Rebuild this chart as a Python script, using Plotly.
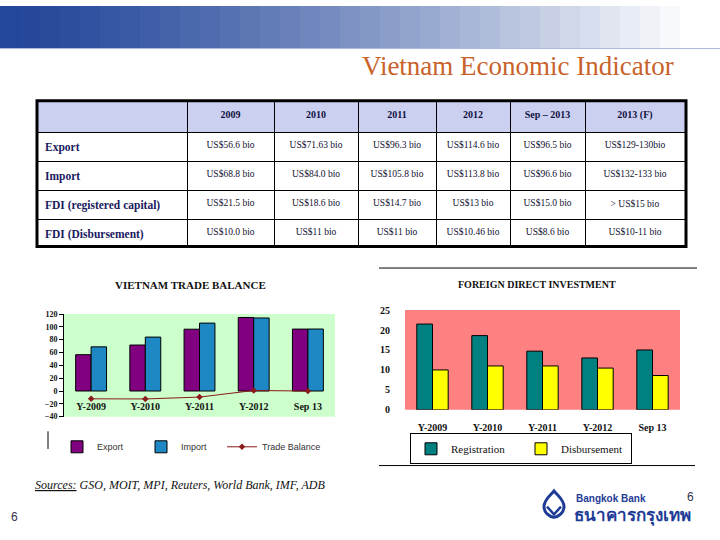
import plotly.graph_objects as go

# ---------------- data ----------------
periods = ["Y-2009", "Y-2010", "Y-2011", "Y-2012", "Sep 13"]
export_bn = [56.6, 71.63, 96.3, 114.6, 96.5]
import_bn = [68.8, 84.0, 105.8, 113.8, 96.6]
trade_balance = [e - i for e, i in zip(export_bn, import_bn)]
fdi_registration = [21.5, 18.6, 14.7, 13.0, 15.0]
fdi_disbursement = [10.0, 11.0, 11.0, 10.46, 8.6]

table_header = ["", "2009", "2010", "2011", "2012", "Sep – 2013", "2013 (F)"]
row_labels = ["Export", "Import", "FDI (registered capital)", "FDI (Disbursement)"]
col_2009 = ["US$56.6 bio", "US$68.8 bio", "US$21.5 bio", "US$10.0 bio"]
col_2010 = ["US$71.63 bio", "US$84.0 bio", "US$18.6 bio", "US$11 bio"]
col_2011 = ["US$96.3 bio", "US$105.8 bio", "US$14.7 bio", "US$11 bio"]
col_2012 = ["US$114.6 bio", "US$113.8 bio", "US$13 bio", "US$10.46 bio"]
col_sep13 = ["US$96.5 bio", "US$96.6 bio", "US$15.0 bio", "US$8.6 bio"]
col_2013f = ["US$129-130bio", "US$132-133 bio", "> US$15 bio", "US$10-11 bio"]

# ---------------- helpers ----------------
W, H = 720, 540
def fx(x): return x / W
def fy(y): return 1 - y / H

SERIF = "Liberation Serif"
SANS = "Liberation Sans"

fig = go.Figure()

# ---------------- table ----------------
fig.add_trace(go.Table(
    domain=dict(x=[fx(37), fx(686)], y=[fy(246), fy(97)]),
    columnwidth=[150, 87, 84, 78, 74, 75, 100],
    header=dict(
        values=["<b>%s</b>" % h for h in table_header],
        fill_color="#ccd0f0",
        line=dict(color="black", width=1),
        align="center",
        font=dict(family=SERIF, size=10, color="#101040"),
        height=32,
    ),
    cells=dict(
        values=[["<b>%s</b>" % r for r in row_labels], col_2009, col_2010, col_2011,
                col_2012, col_sep13, col_2013f],
        fill_color="white",
        line=dict(color="black", width=1),
        align=["left"] + ["center"] * 6,
        font=dict(family=SERIF, size=[11.5] + [9.5] * 6,
                  color=["#1a1a60"] + ["#101030"] * 6),
        height=29,
    ),
))

# ---------------- trade balance chart ----------------
fig.add_trace(go.Bar(x=periods, y=export_bn, name="Export", marker=dict(color="#800080", line=dict(color="black", width=1)),
                     xaxis="x", yaxis="y", legend="legend"))
fig.add_trace(go.Bar(x=periods, y=import_bn, name="Import", marker=dict(color="#1e88c4", line=dict(color="black", width=1)),
                     xaxis="x", yaxis="y", legend="legend"))
fig.add_trace(go.Scatter(x=periods, y=trade_balance, name="Trade Balance", mode="lines+markers",
                         line=dict(color="#8b1a1a", width=1), marker=dict(symbol="diamond", size=5, color="#8b1a1a"),
                         xaxis="x", yaxis="y", legend="legend3"))

# ---------------- FDI chart ----------------
fig.add_trace(go.Bar(x=periods, y=fdi_registration, name="Registration", marker=dict(color="#008080", line=dict(color="black", width=1)),
                     xaxis="x2", yaxis="y2", legend="legend2"))
fig.add_trace(go.Bar(x=periods, y=fdi_disbursement, name="Disbursement", marker=dict(color="#ffff00", line=dict(color="black", width=1)),
                     xaxis="x2", yaxis="y2", legend="legend2"))

ly0, ly1 = fy(420), fy(315)
zero_pos = ly0 + (ly1 - ly0) * (40 / 160)

shapes = []
# header gradient band
c0 = (35, 71, 154)
c1 = (255, 255, 255)
steps = 36
for i in range(steps):
    t = min(1.0, (i / (steps - 1)) ** 1.3 * 1.05)
    col = tuple(int(c0[k] + (c1[k] - c0[k]) * t) for k in range(3))
    shapes.append(dict(type="rect", xref="paper", yref="paper",
                       x0=fx(i * 20), x1=fx(i * 20 + 21), y0=fy(43), y1=1,
                       line=dict(width=0), fillcolor="rgb(%d,%d,%d)" % col, layer="below"))
shapes.append(dict(type="line", xref="paper", yref="paper", x0=0, x1=1, y0=fy(43.5), y1=fy(43.5),
                   line=dict(color="#a8b8d8", width=1)))
# plot backgrounds
shapes.append(dict(type="rect", xref="x domain", yref="y domain", x0=0, x1=1, y0=0, y1=1,
                   fillcolor="#ccffcc", line=dict(width=0), layer="below"))
shapes.append(dict(type="rect", xref="x2 domain", yref="y2 domain", x0=0, x1=1, y0=0, y1=1,
                   fillcolor="#ff8080", line=dict(width=0), layer="below"))
# table outer frame
shapes.append(dict(type="rect", xref="paper", yref="paper", x0=fx(37), x1=fx(686), y0=fy(246), y1=fy(97),
                   line=dict(color="black", width=3)))
# FDI panel frame lines
shapes.append(dict(type="line", xref="paper", yref="paper", x0=fx(379), x1=fx(697), y0=fy(268), y1=fy(268),
                   line=dict(color="black", width=1)))
shapes.append(dict(type="line", xref="paper", yref="paper", x0=fx(379), x1=fx(695), y0=fy(470), y1=fy(470),
                   line=dict(color="black", width=1)))
# left legend edge mark
shapes.append(dict(type="line", xref="paper", yref="paper", x0=fx(48), x1=fx(48), y0=fy(453), y1=fy(435),
                   line=dict(color="black", width=1)))
# Bangkok Bank logo mark
logo_col = "#1e3c96"
shapes.append(dict(type="path", xref="paper", yref="paper",
                   path="M %f %f C %f %f %f %f %f %f C %f %f %f %f %f %f C %f %f %f %f %f %f C %f %f %f %f %f %f Z" % (
                       fx(554), fy(496),
                       fx(558), fy(501), fx(564), fy(505), fx(564), fy(512),
                       fx(564), fy(518), fx(559), fy(522), fx(554), fy(523),
                       fx(549), fy(522), fx(544), fy(518), fx(544), fy(512),
                       fx(544), fy(505), fx(550), fy(501), fx(554), fy(496)),
                   line=dict(color=logo_col, width=3)))
shapes.append(dict(type="path", xref="paper", yref="paper",
                   path="M %f %f L %f %f L %f %f" % (fx(547), fy(512), fx(554), fy(520), fx(561), fy(512)),
                   line=dict(color=logo_col, width=2.5)))

annotations = [
    dict(text="Vietnam Economic Indicator", x=fx(676), y=fy(61), xref="paper", yref="paper",
         xanchor="right", yanchor="middle", showarrow=False,
         font=dict(family=SERIF, size=27, color="#c8622a")),
    dict(text="<b>VIETNAM TRADE BALANCE</b>", x=fx(190), y=fy(285), xref="paper", yref="paper",
         xanchor="center", yanchor="middle", showarrow=False,
         font=dict(family=SERIF, size=11, color="#111111")),
    dict(text="<b>FOREIGN DIRECT INVESTMENT</b>", x=fx(537), y=fy(285), xref="paper", yref="paper",
         xanchor="center", yanchor="middle", showarrow=False,
         font=dict(family=SERIF, size=10, color="#111111")),
    dict(text="<i><u>Sources:</u> GSO, MOIT, MPI, Reuters, World Bank, IMF, ADB</i>", x=fx(33), y=fy(490),
         xref="paper", yref="paper", xanchor="left", yanchor="middle", showarrow=False,
         font=dict(family=SERIF, size=12, color="#111111")),
    dict(text="6", x=fx(14), y=fy(523), xref="paper", yref="paper", xanchor="center", yanchor="middle",
         showarrow=False, font=dict(family=SANS, size=12, color="#303050")),
    dict(text="6", x=fx(690), y=fy(502), xref="paper", yref="paper", xanchor="center", yanchor="middle",
         showarrow=False, font=dict(family=SANS, size=12, color="#303050")),
    dict(text="<b>Bangkok Bank</b>", x=fx(574), y=fy(504), xref="paper", yref="paper", xanchor="left",
         yanchor="middle", showarrow=False, font=dict(family=SANS, size=10, color=logo_col)),
    dict(text="<b>ธนาคารกรุงเทพ</b>", x=fx(572), y=fy(520), xref="paper", yref="paper", xanchor="left",
         yanchor="middle", showarrow=False, font=dict(family="Noto Sans, DejaVu Sans", size=17, color=logo_col)),
]

fig.update_layout(
    width=W, height=H, margin=dict(l=0, r=0, t=0, b=0),
    paper_bgcolor="white", plot_bgcolor="rgba(0,0,0,0)",
    barmode="group", bargap=0.43, bargroupgap=0,
    shapes=shapes, annotations=annotations,
    xaxis=dict(domain=[fx(64), fx(335)], anchor="free", position=zero_pos, range=[-0.5, 4.5],
               showline=False, showgrid=False, ticks="outside", ticklen=6, tickcolor="rgba(0,0,0,0)",
               tickfont=dict(family=SERIF, size=10, color="#111111"), tickprefix="<b>", ticksuffix="</b>"),
    yaxis=dict(domain=[fy(420), fy(315)], anchor="x", range=[-40, 120], dtick=20,
               showline=True, linecolor="black", linewidth=1, showgrid=False, zeroline=False,
               ticks="outside", ticklen=4, tickcolor="black",
               tickfont=dict(family=SERIF, size=8, color="#111111"), tickprefix="<b>", ticksuffix="</b>"),
    xaxis2=dict(domain=[fx(405), fx(680)], anchor="y2", range=[-0.5, 4.5],
                showline=False, showgrid=False, ticks="outside", ticklen=8, tickcolor="rgba(0,0,0,0)",
                tickfont=dict(family=SERIF, size=10, color="#111111"), tickprefix="<b>", ticksuffix="</b>"),
    yaxis2=dict(domain=[fy(413), fy(311)], anchor="x2", range=[0, 25], dtick=5,
                showline=False, showgrid=False, zeroline=False,
                ticks="outside", ticklen=12, tickcolor="rgba(0,0,0,0)",
                tickfont=dict(family=SERIF, size=10, color="#111111"), tickprefix="<b>", ticksuffix="</b>"),
    legend=dict(orientation="h", x=fx(57), y=fy(436), xanchor="left", yanchor="top",
                itemwidth=30, entrywidth=39, entrywidthmode="pixels", bgcolor="rgba(0,0,0,0)",
                font=dict(family=SANS, size=9, color="#333333"), traceorder="normal"),
    legend3=dict(orientation="h", x=fx(222), y=fy(436), xanchor="left", yanchor="top",
                 itemwidth=30, bgcolor="rgba(0,0,0,0)",
                 font=dict(family=SANS, size=9, color="#333333")),
    legend2=dict(orientation="h", x=fx(410), y=fy(437), xanchor="left", yanchor="top",
                 itemwidth=30, entrywidth=65, entrywidthmode="pixels", bgcolor="rgba(0,0,0,0)",
                 bordercolor="black", borderwidth=1,
                 font=dict(family=SERIF, size=11, color="#111111"), traceorder="normal"),
)

fig.write_html("out.html", config={"displayModeBar": False},
               post_script="document.body.style.margin='0';")
